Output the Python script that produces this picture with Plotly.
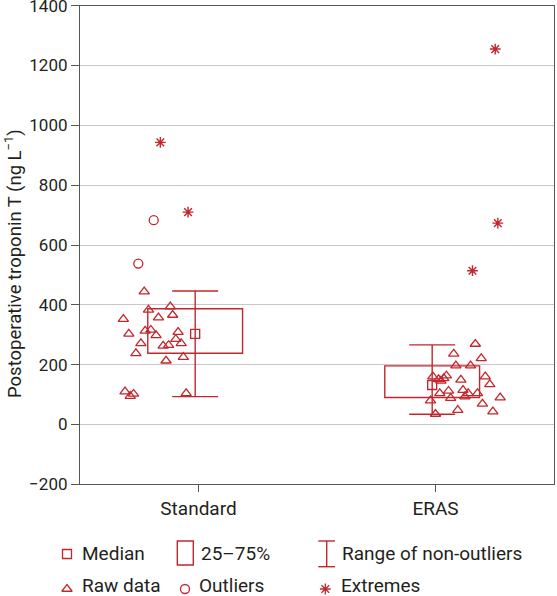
import plotly.graph_objects as go

# ---------------- data ----------------
groups = ["Standard", "ERAS"]

standard_raw = [444, 383, 394, 366, 357, 352, 303, 313, 316, 298, 309, 285,
                271, 271, 263, 265, 238, 213, 225, 110, 95, 102, 104]
standard_jitter = [-0.229, -0.211, -0.119, -0.109, -0.169, -0.317, -0.294, -0.225,
                   -0.201, -0.179, -0.086, -0.096, -0.073, -0.243, -0.149, -0.126,
                   -0.264, -0.137, -0.064, -0.310, -0.288, -0.274, -0.052]

eras_raw = [269, 236, 221, 197, 197, 160, 134, 149, 160, 151, 154, 163, 146,
            104, 112, 88, 115, 93, 104, 104, 80, 69, 90, 48, 43, 35]
eras_jitter = [0.168, 0.077, 0.193, 0.086, 0.148, 0.210, 0.229, 0.107, -0.011,
               0.013, 0.035, 0.046, 0.023, 0.018, 0.055, 0.064, 0.116, 0.124,
               0.138, 0.177, -0.021, 0.198, 0.273, 0.094, 0.242, 0.000]

standard_outliers = [683, 538]
standard_outlier_jitter = [-0.189, -0.254]

standard_extremes = [943, 710]
standard_extreme_jitter = [-0.161, -0.044]
eras_extremes = [1255, 673, 514]
eras_extreme_jitter = [0.252, 0.263, 0.156]

medians = [303, 132]
q1 = [238, 90]
q3 = [387, 196]
whisker_low = [93, 34]
whisker_high = [446, 266]

y_ticks = [-200, 0, 200, 400, 600, 800, 1000, 1200, 1400]

# ---------------- style ----------------
RED = "#c1272d"
TXT = "#231f20"
FONT = "Roboto, Liberation Sans, sans-serif"
W, H = 557, 596
box_offset = -0.014
box_half = 0.2

fig = go.Figure()

positions = [i + box_offset for i in range(len(groups))]

# raw data
fig.add_trace(go.Scatter(
    x=[0 + j for j in standard_jitter] + [1 + j for j in eras_jitter],
    y=standard_raw + eras_raw, mode="markers", cliponaxis=False,
    marker=dict(symbol="triangle-up-open", size=9, color=RED, line=dict(width=1.3, color=RED)),
    showlegend=False, hoverinfo="y"))

# outliers
fig.add_trace(go.Scatter(
    x=[0 + j for j in standard_outlier_jitter], y=standard_outliers, mode="markers",
    marker=dict(symbol="circle-open", size=9, color=RED, line=dict(width=1.3, color=RED)),
    showlegend=False))

# extremes
fig.add_trace(go.Scatter(
    x=[0 + j for j in standard_extreme_jitter] + [1 + j for j in eras_extreme_jitter],
    y=standard_extremes + eras_extremes, mode="markers",
    marker=dict(symbol="asterisk-open", size=9, color=RED, line=dict(width=1.4, color=RED)),
    showlegend=False))

# boxes (25-75%)
for p, a, b in zip(positions, q1, q3):
    fig.add_shape(type="rect", xref="x", yref="y", x0=p - box_half, x1=p + box_half,
                  y0=a, y1=b, line=dict(color=RED, width=1.4), layer="between")

# whiskers + median
fig.add_trace(go.Scatter(
    x=positions, y=medians, mode="markers",
    marker=dict(symbol="square-open", size=9, color=RED, line=dict(width=1.3, color=RED)),
    error_y=dict(type="data", symmetric=False,
                 array=[h - m for h, m in zip(whisker_high, medians)],
                 arrayminus=[m - l for m, l in zip(medians, whisker_low)],
                 color=RED, thickness=1.4, width=23),
    showlegend=False))

# ---------------- legend (drawn on a separate axis in pixel units) ----------------
leg_marker_x = [67, 67, 185, 325.3]
leg_marker_y = [554, 589, 589, 589]
leg_symbols = ["square-open", "triangle-up-open", "circle-open", "asterisk-open"]
fig.add_trace(go.Scatter(
    x=leg_marker_x, y=leg_marker_y, xaxis="x2", yaxis="y2", mode="markers",
    cliponaxis=False,
    marker=dict(symbol=leg_symbols, size=9, color=RED, line=dict(width=1.3, color=RED)),
    showlegend=False, hoverinfo="skip"))

fig.add_shape(type="rect", xref="x2", yref="y2", x0=177.3, x1=193.3, y0=541, y1=565,
              line=dict(color=RED, width=1.4))
fig.add_shape(type="line", xref="x2", yref="y2", x0=326.7, x1=326.7, y0=541, y1=566.7,
              line=dict(color=RED, width=1.4))
for yy in (541, 566.7):
    fig.add_shape(type="line", xref="x2", yref="y2", x0=318.3, x1=335, y0=yy, y1=yy,
                  line=dict(color=RED, width=1.4))

leg_texts = [("Median", 81, 553), ("25–75%", 200, 553), ("Range of non-outliers", 341, 553),
             ("Raw data", 81, 585), ("Outliers", 198, 585), ("Extremes", 340, 585)]
for t, x, y in leg_texts:
    fig.add_annotation(text=t, x=x, y=y, xref="x2", yref="y2", xanchor="left",
                       yanchor="middle", showarrow=False, borderpad=0,
                       font=dict(family=FONT, size=19, color=TXT))

# y-axis title
fig.add_annotation(text="Postoperative troponin T (ng L<sup>−1</sup>)", x=13 / W, y=1 - 264 / H,
                   xref="paper", yref="paper", textangle=-90, showarrow=False,
                   xanchor="center", yanchor="middle",
                   font=dict(family=FONT, size=18.5, color=TXT))

fig.update_layout(
    width=W, height=H, margin=dict(l=0, r=0, t=0, b=0, autoexpand=False),
    paper_bgcolor="white", plot_bgcolor="rgba(0,0,0,0)",
    font=dict(family=FONT, size=18, color=TXT),
    xaxis=dict(domain=[80 / W, 554 / W], range=[-0.5, 1.5], tickvals=[0, 1], ticktext=groups,
               ticks="outside", ticklen=7, tickcolor="#555555", tickwidth=1,
               showline=True, linecolor="#555555", linewidth=1.2, mirror=True,
               showgrid=False, zeroline=False, anchor="y", automargin=False,
               tickfont=dict(size=19, family=FONT, color=TXT)),
    yaxis=dict(domain=[1 - 484.3 / H, 1 - 5.7 / H], range=[-200, 1400], tickvals=y_ticks,
               ticks="outside", ticklen=8, tickcolor="#555555", tickwidth=1,
               showline=True, linecolor="#555555", linewidth=1.2, mirror=True,
               showgrid=True, gridcolor="#c8c8c8", gridwidth=1, zeroline=False, anchor="x",
               ticklabeloverflow="allow", automargin=False,
               tickfont=dict(size=17, family=FONT, color=TXT)),
    xaxis2=dict(domain=[0, 1], range=[0, W], visible=False, fixedrange=True, anchor="y2",
                automargin=False),
    yaxis2=dict(domain=[0, 1], range=[H, 0], visible=False, fixedrange=True, anchor="x2",
                automargin=False),
)

fig.write_html("out.html", config={"displayModeBar": False},
               post_script="document.body.style.margin='0';")
